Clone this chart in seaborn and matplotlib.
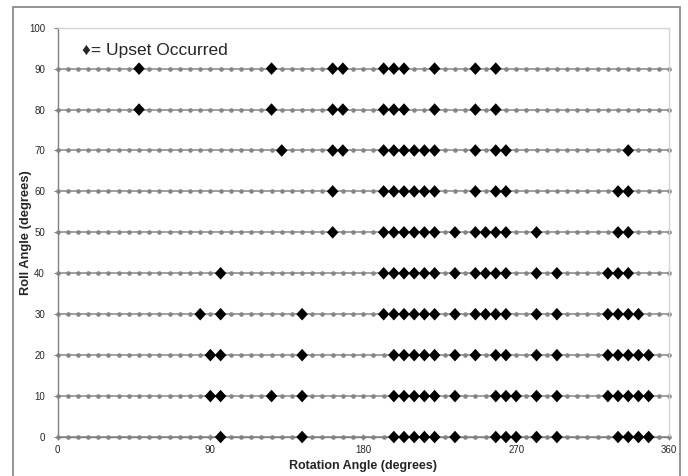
import numpy as np
import pandas as pd
import matplotlib
matplotlib.use("Agg")
import matplotlib.pyplot as plt
from matplotlib.patches import Rectangle
import seaborn as sns

# тестовая сетка: угол поворота с шагом 6 градусов, крен с шагом 10
rotation_steps = list(range(0, 361, 6))
roll_angles = [0, 10, 20, 30, 40, 50, 60, 70, 80, 90]

# углы поворота, при которых произошёл сбой, для каждого угла крена
upset_roll_0 = [96, 144, 198, 204, 210, 216, 222, 234, 258, 264, 270, 282, 294, 330, 336, 342, 348]
upset_roll_10 = [90, 96, 126, 144, 198, 204, 210, 216, 222, 234, 258, 264, 270, 282, 294, 324, 330, 336, 342, 348]
upset_roll_20 = [90, 96, 144, 198, 204, 210, 216, 222, 234, 246, 258, 264, 282, 294, 324, 330, 336, 342, 348]
upset_roll_30 = [84, 96, 144, 192, 198, 204, 210, 216, 222, 234, 246, 252, 258, 264, 282, 294, 324, 330, 336, 342]
upset_roll_40 = [96, 192, 198, 204, 210, 216, 222, 234, 246, 252, 258, 264, 282, 294, 324, 330, 336]
upset_roll_50 = [162, 192, 198, 204, 210, 216, 222, 234, 246, 252, 258, 264, 282, 330, 336]
upset_roll_60 = [162, 192, 198, 204, 210, 216, 222, 246, 258, 264, 330, 336]
upset_roll_70 = [132, 162, 168, 192, 198, 204, 210, 216, 222, 246, 258, 264, 336]
upset_roll_80 = [48, 126, 162, 168, 192, 198, 204, 222, 246, 258]
upset_roll_90 = [48, 126, 162, 168, 192, 198, 204, 222, 246, 258]

x_ticks = [0, 90, 180, 270, 360]
y_ticks = [0, 10, 20, 30, 40, 50, 60, 70, 80, 90, 100]


def main():
    upsets = [upset_roll_0, upset_roll_10, upset_roll_20, upset_roll_30, upset_roll_40,
              upset_roll_50, upset_roll_60, upset_roll_70, upset_roll_80, upset_roll_90]

    grid = pd.DataFrame(
        [(r, roll) for roll in roll_angles for r in rotation_steps],
        columns=["rotation", "roll"]
    )
    upset_df = pd.DataFrame(
        [(r, roll) for roll, rots in zip(roll_angles, upsets) for r in rots],
        columns=["rotation", "roll"]
    )

    sns.set_style("white")
    plt.rcParams["font.family"] = ["Liberation Sans", "DejaVu Sans"]

    fig = plt.figure(figsize=(6.88, 4.76), dpi=100)
    ax = fig.add_axes([0.0836, 0.0819, 0.8888, 0.8599])

    # рамка вокруг всей картинки
    fig.patches.append(Rectangle((0.0185, -0.02), 0.9695, 1.005, transform=fig.transFigure,
                                 fill=False, edgecolor="#8c8c8c", linewidth=1.3))

    # линии сетки испытаний с точками
    sns.lineplot(data=grid, x="rotation", y="roll", units="roll", estimator=None,
                 color="#909090", linewidth=1.2, marker="o", markersize=3.3,
                 markerfacecolor="#858585", markeredgewidth=0, ax=ax,
                 legend=False, clip_on=False, zorder=2)

    # ромбы - сбой
    diamond = [(0, 1), (0.92, 0), (0, -1), (-0.92, 0), (0, 1)]
    sns.scatterplot(data=upset_df, x="rotation", y="roll", marker=diamond, s=82,
                    color="black", edgecolor="none", ax=ax, legend=False,
                    clip_on=False, zorder=3)

    ax.set_xlim(0, 360)
    ax.set_ylim(0, 100)
    ax.set_xticks(x_ticks)
    ax.set_yticks(y_ticks)
    ax.tick_params(axis="y", direction="out", length=3, width=0.8, color="#808080",
                   labelsize=7, pad=6, left=True)
    ax.tick_params(axis="x", direction="inout", length=4, width=0.8, color="#808080",
                   labelsize=7, pad=4, bottom=True)

    for side in ["left", "bottom"]:
        ax.spines[side].set_color("#808080")
        ax.spines[side].set_linewidth(1.0)
    for side in ["top", "right"]:
        ax.spines[side].set_color("#d4d4d4")
        ax.spines[side].set_linewidth(1.0)

    ax.set_xlabel("Rotation Angle (degrees)", fontsize=9, fontweight="bold", labelpad=3)
    ax.set_ylabel("Roll Angle (degrees)", fontsize=9.3, fontweight="bold")
    ax.yaxis.set_label_coords(-0.041, 0.5)

    ax.text(0.04, 0.945, "\u2666= Upset Occurred", transform=ax.transAxes,
            fontsize=12.5, va="center", ha="left",
            family=["Liberation Sans", "DejaVu Sans"])

    plt.savefig("out.png", dpi=100)


if __name__ == "__main__":
    main()
